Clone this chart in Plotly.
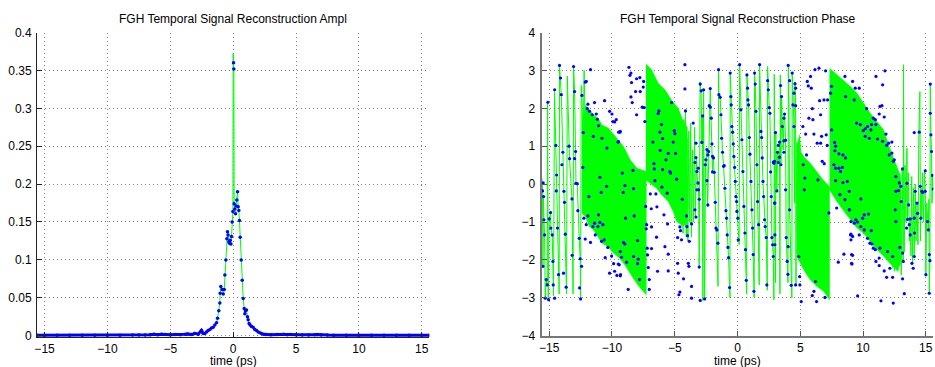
import plotly.graph_objects as go

# ---------------- Amplitude panel data ----------------
t_amp = [-15.6,-15.0,-14.0,-13.0,-12.0,-11.0,-10.0,-9.0,-8.0,-7.5,
         -7.0,-6.6,-6.3,-6.0,-5.7,-5.4,-5.0,-4.6,-4.2,-3.8,
         -3.6,-3.3,-3.05,-2.78,-2.52,-2.38,-2.25,-2.12,-1.99,-1.85,
         -1.72,-1.59,-1.46,-1.32,-1.24,-1.14,-1.06,-1.03,-0.98,-0.87,
         -0.79,-0.71,-0.66,-0.58,-0.50,-0.45,-0.40,-0.34,-0.29,-0.24,
         -0.18,-0.13,-0.08,-0.02,0.03,0.055,0.08,0.13,0.19,0.24,
         0.29,0.35,0.40,0.45,0.50,0.56,0.64,0.72,0.80,0.88,
         0.93,0.98,1.06,1.14,1.19,1.27,1.35,1.46,1.59,1.72,
         1.86,1.99,2.12,2.25,2.39,2.6,3.0,3.5,4.0,4.3,
         4.6,5.0,5.5,6.0,6.5,6.7,7.0,7.5,8.0,9.0,
         10.0,11.0,12.0,13.0,14.0,15.0,15.6]
a_amp = [0.0005,0.0005,0.0005,0.0005,0.0005,0.0005,0.0005,0.0006,0.0008,0.0010,
         0.0010,0.0012,0.0018,0.0012,0.0020,0.0015,0.0012,0.0015,0.0012,0.0018,
         0.0022,0.0015,0.003,0.002,0.007,0.003,0.003,0.005,0.007,0.008,
         0.010,0.011,0.014,0.017,0.023,0.033,0.043,0.056,0.065,0.061,
         0.055,0.061,0.080,0.100,0.128,0.137,0.133,0.124,0.122,0.126,
         0.121,0.131,0.150,0.164,0.360,0.352,0.174,0.167,0.161,0.171,
         0.179,0.190,0.170,0.165,0.152,0.130,0.100,0.073,0.049,0.036,
         0.029,0.033,0.034,0.025,0.021,0.016,0.014,0.012,0.011,0.008,
         0.007,0.005,0.004,0.003,0.002,0.0015,0.0012,0.0015,0.0018,0.0012,
         0.0015,0.0012,0.0010,0.0010,0.0012,0.0015,0.0010,0.0008,0.0006,0.0005,
         0.0005,0.0005,0.0005,0.0005,0.0005,0.0005,0.0005]
peak_t = [0.0]
peak_a = [0.372]

# ---------------- Phase panel data: blue samples ----------------
dA_t = [-14.18,-13.06,-11.71,-12.13,-12.05,-15.11,-14.57,-14.04,-14.10,-12.98,
        -12.40,-11.92,-11.39,-11.97,-11.79,-11.57,-11.25,-10.59,-10.19,-10.00,
        -9.93,-9.79,-9.66,-9.47,-9.34,-11.17,-11.07,-11.49,-10.80,-12.29,
        -10.40,-9.53,-14.47,-13.43,-13.91,-12.90,-13.99,-13.38,-12.98,-12.32,
        -10.96,-10.43,-10.86,-12.87,-12.77,-14.41,-14.44,-13.83,-15.48,-15.53,
        -15.45,-13.19,-11.84,-13.78,-14.89,-15.42,-15.00,-14.34,-14.87,-13.72,
        -14.76,-12.72,-11.07,-12.24,-11.92,-10.96,-10.72,-12.05,-11.39,-11.52,
        -11.33,-11.12,-11.71,-10.83,-10.62,-15.37,-10.33,-12.61,-12.13,-13.17,
        -12.53,-10.54,-10.03,-9.42,-15.50,-14.71,-13.86,-12.42,-9.87,-10.19,
        -9.79,-9.61,-9.32,-15.24,-14.26,-15.16,-14.68,-13.65,-12.58,-15.32,
        -15.05,-14.57,-12.50]
dA_p = [3.13,3.10,3.02,2.69,2.71,2.16,2.49,2.36,2.80,2.44,
        2.34,2.11,2.15,1.99,1.92,1.83,1.85,2.20,1.92,1.85,
        1.65,1.64,1.70,1.37,1.39,1.71,1.54,1.26,1.21,1.36,
        0.95,1.11,1.02,1.00,0.84,0.86,0.51,0.67,0.67,0.44,
        0.18,-0.06,-0.22,0.02,0.01,0.24,-0.18,-0.19,0.03,-0.18,
        -0.33,-0.39,-0.33,-0.48,-0.75,-0.94,-0.92,-1.16,-1.16,-1.32,
        -1.34,-0.70,-0.81,-0.90,-0.84,-1.01,-1.07,-1.07,-1.03,-1.12,
        -1.34,-1.12,-1.54,-1.51,-1.47,-1.34,-1.67,-1.43,-1.45,-1.88,
        -1.97,-1.94,-1.90,-2.13,-2.17,-2.04,-2.35,-2.17,-2.10,-2.35,
        -2.30,-2.41,-2.39,-2.52,-2.39,-2.66,-2.66,-2.72,-2.74,-3.01,
        -3.05,-3.01,-3.03]

dB_t = [-8.65,-8.49,-8.57,-8.04,-7.78,-7.48,-7.51,-8.44,-8.12,-7.75,
        -8.49,-8.39,-7.59,-7.43,-8.04,-7.38,-4.19,-4.19,-5.25,-6.26,
        -6.32,-4.14,-6.05,-5.04,-6.18,-4.99,-5.97,-6.74,-5.12,-3.31,
        -9.37,-9.48,-6.16,-5.52,-4.93,-5.70,-3.53,-6.66,-6.63,-5.97,
        -5.39,-5.33,-3.39,-3.13,-4.85,-8.33,-9.18,-6.58,-8.97,-8.28,
        -6.02,-5.60,-6.50,-9.10,-3.23,-4.40,-6.95,-7.32,-6.87,-6.42,
        -3.39,-8.92,-8.23,-5.86,-4.06,-5.57,-6.85,-4.59,-4.54,-4.03,
        -7.27,-7.24,-3.66,-6.45,-4.77,-4.46,-3.98,-7.96,-9.08,-8.97,
        -3.84,-9.34,-6.85,-7.19,-5.78,-7.17,-5.52,-8.28,-9.24,-8.84,
        -7.91,-9.50,-7.96,-4.77,-3.92,-3.87,-7.11,-6.37,-5.52,-4.72,
        -9.34,-4.30,-3.66,-7.80,-7.03,-8.71,-7.03,-4.59,-4.67,-3.66]
dB_p = [3.08,2.93,2.87,2.78,2.81,2.71,2.56,2.68,2.44,2.44,
        2.30,2.15,2.03,2.02,1.83,1.65,3.15,2.51,2.15,1.93,
        1.86,1.93,1.57,1.41,1.37,1.33,1.20,1.11,1.11,1.08,
        1.37,1.12,0.89,0.81,0.81,0.64,1.61,0.54,0.40,0.38,
        0.33,0.29,0.57,0.42,0.13,0.36,0.29,0.09,-0.04,-0.12,
        -0.08,-0.24,-0.26,-0.22,-0.15,-0.40,-0.26,-0.59,-0.65,-0.60,
        -0.68,-0.90,-0.84,-0.81,-0.84,-1.05,-1.13,-1.13,-1.23,-1.12,
        -1.18,-1.07,-1.05,-1.40,-1.41,-1.47,-1.36,-1.49,-1.54,-1.58,
        -1.51,-1.78,-1.70,-1.69,-1.65,-1.87,-1.85,-1.91,-1.93,-2.06,
        -1.98,-2.11,-2.10,-2.09,-2.09,-2.17,-2.20,-2.30,-2.29,-2.35,
        -2.42,-2.50,-2.70,-2.52,-2.52,-2.78,-2.78,-2.85,-2.92,-3.01]

dC_t = [-2.97,-2.89,-2.70,-2.17,-2.25,-2.17,-2.09,-2.78,-2.84,-2.04,
        -2.44,-2.30,-2.36,-2.52,-2.57,-1.99,-1.91,-3.31,-3.23,-1.99,
        -1.85,-3.15,-3.10,-2.44,-3.05,-2.36,-3.31,-1.77,-1.72,-1.64,
        -1.56,-1.51,-1.48,-1.38,-1.32,-1.27,-1.19,-1.11,-1.06,-1.00,
        -0.92,-0.87,-0.82,-0.76,-0.71,-0.63,-3.05,-2.97,-2.62,-0.58,
        -0.53,-0.50,-0.45,-0.39,-0.34,-0.29,-0.23,-0.18,-0.13,-0.07,
        -0.05,0.03,0.06,0.17,0.27,0.35,0.43,0.51,0.59,0.64,
        0.70,0.75,0.80,0.83,0.88,0.94,0.99,1.07,1.15,1.20,
        1.25,1.31,1.36,1.41,1.47,1.55,1.60,1.68,1.76,1.87,
        1.92,1.97,2.03,2.08,2.16,2.21,2.29,2.34,2.40,2.45,
        2.53,2.58,2.64,2.69,2.74,2.80,2.85,2.90,2.95,2.95]
dC_p = [2.64,2.46,2.49,2.52,2.07,2.03,1.74,1.80,1.10,1.06,
        0.91,0.86,0.77,0.64,0.51,0.73,0.69,0.70,0.33,0.32,
        0.31,0.03,-0.15,0.09,-0.40,-0.55,-0.87,-0.48,-1.16,-1.21,
        -1.56,3.02,2.36,2.29,1.83,1.21,0.84,0.47,0.49,-0.11,
        -0.70,-0.90,-1.34,-1.67,-1.94,-2.73,-2.19,-3.07,-3.03,2.93,
        2.31,2.09,1.52,1.37,1.06,0.73,0.44,0.07,-0.33,-0.46,
        -0.72,-0.90,-1.47,3.15,1.96,1.17,0.33,-0.59,-1.29,-1.73,
        -2.54,2.88,2.53,2.22,2.09,1.23,0.79,0.07,-0.68,-1.16,
        -1.86,-2.83,2.93,2.64,1.92,0.51,-0.46,-1.07,3.15,1.39,
        1.23,0.69,0.07,-0.33,-0.94,-1.12,-1.41,-2.66,2.73,2.49,
        2.02,1.87,0.32,-0.33,-1.41,-1.60,-1.91,0.55,0.60,-0.50]

dD_t = [4.04,4.36,4.58,4.63,4.15,3.43,4.50,3.51,4.63,4.42,
        3.75,3.70,3.57,4.50,3.03,3.35,3.25,3.70,3.83,3.19,
        3.70,3.35,2.85,3.25,3.46,3.14,3.83,2.98,4.15,3.88,
        2.98,4.04,3.96,4.02,4.28,4.63,2.98,6.17,6.49,7.02,
        5.56,5.64,5.82,5.88,6.54,6.89,7.18,5.96,5.69,6.01,
        6.62,5.21,5.43,6.09,6.70,7.07,6.35,6.62,7.15,5.50,
        5.24,6.75,6.91,7.50,7.42,8.56,8.61,7.50,7.74,7.82,
        7.76,8.08,8.40,7.68,7.82,8.08,8.21,8.35,8.61,5.37,
        6.41,7.82,8.40,8.75,5.32,8.16,8.56,8.93,7.90,7.28,
        9.01,9.04,8.48,9.09,8.03,9.09,4.89,4.95,4.97,6.22,
        6.09,6.30,5.08,6.97,5.96]
dD_p = [3.13,2.93,2.65,2.53,2.73,2.60,2.40,2.31,2.07,2.09,
        1.85,1.74,1.52,1.52,1.36,1.11,1.02,1.14,1.16,0.84,
        0.84,0.71,0.58,0.57,0.51,-0.18,-0.15,-0.50,-0.68,-1.41,
        -1.34,-1.65,-2.04,-2.38,-2.67,-2.66,-1.60,3.02,3.06,2.99,
        2.71,2.59,2.84,2.53,2.20,2.22,2.22,1.99,1.74,1.70,
        1.83,1.52,1.32,1.32,1.26,1.30,1.08,1.08,1.02,0.77,
        0.51,0.60,0.54,2.58,2.40,2.84,2.31,1.43,1.10,1.00,
        0.88,0.80,0.77,0.51,0.42,0.42,0.33,0.44,0.69,0.16,
        0.11,0.09,0.04,0.07,-0.15,-0.28,-0.41,-0.68,-0.63,-0.76,
        -1.34,-1.47,-1.85,-1.86,-2.06,-2.09,-1.91,-2.44,-2.66,-2.57,
        -2.83,-3.10,-3.10,-2.99,-2.94]

dE_t = [9.17,9.38,9.70,11.03,11.75,11.56,10.29,9.30,10.82,10.98,
        11.35,11.51,11.69,11.29,9.49,9.78,10.18,10.02,10.36,10.68,
        10.63,11.03,11.83,10.18,10.50,11.16,11.56,12.04,12.30,11.88,
        12.30,12.09,12.41,12.49,12.62,12.89,13.02,12.62,12.83,13.15,
        13.50,14.08,14.48,14.56,14.69,14.16,14.75,14.96,15.36,15.36,
        15.41,15.46,14.96,15.54,15.60,9.83,8.90,8.90,12.57,13.63,
        13.05,13.55,13.76,13.69,14.30,14.35,14.08,14.61,15.15,12.62,
        9.43,9.57,9.97,10.10,10.44,9.04,9.30,9.83,10.10,10.66,
        9.70,9.04,9.17,10.36,13.76,14.11,13.47,15.20,10.55,10.71,
        10.82,10.98,11.35,11.29,11.96,12.36,12.94,13.15,14.08,15.28,
        15.33,9.12,9.17,11.03,11.29,11.69,12.14,13.21,13.90,14.00,
        15.01,11.88,12.36,13.15,15.28,13.29,9.57,11.43,12.41]
dE_p = [2.71,2.53,2.53,2.84,2.99,2.62,1.99,2.22,1.74,1.70,
        2.05,2.07,1.77,1.85,1.61,1.57,1.46,1.41,1.52,1.57,
        1.43,1.57,1.32,1.26,1.21,1.19,1.13,1.08,1.11,1.02,
        0.82,0.77,0.60,0.64,0.20,0.03,-0.06,-0.19,-0.17,0.40,
        0.02,1.36,1.37,-0.06,-0.19,-0.19,-0.22,-0.19,2.64,1.87,
        1.30,0.86,0.35,0.23,-0.13,-0.39,-0.19,-0.68,-0.68,-0.55,
        -0.46,-0.93,-0.92,-1.07,-0.50,-0.77,-0.90,-0.90,-0.99,-0.99,
        -0.94,-1.00,-0.90,-0.81,-0.79,-0.99,-1.03,-1.12,-1.21,-1.23,
        -1.34,-1.32,-1.38,-1.43,-1.34,-1.29,-1.16,-1.21,-1.56,-1.58,
        -1.69,-1.73,-1.69,-1.95,-1.78,-1.91,-1.67,-1.82,-1.91,-1.86,
        -2.02,-2.11,-1.88,-2.04,-2.15,-2.29,-2.22,-2.04,-2.09,-2.22,
        -2.39,-2.46,-2.46,-2.50,-2.88,-2.89,-2.95,-3.08,-3.14]

# ---------------- Phase panel data: green reconstruction ----------------
saw1_t = [-15.58,-15.53,-15.50,-15.47,-15.42,-15.37,-15.32,-15.24,-15.16,-15.13,
          -15.08,-15.00,-14.89,-14.87,-14.76,-14.71,-14.66,-14.58,-14.47,-14.41,
          -14.34,-14.26,-14.21,-14.18,-14.10,-14.04,-13.91,-13.83,-13.78,-13.72,
          -13.65,-13.62,-13.56,-13.43,-13.38,-13.19,-13.17,-13.10,-13.06,-12.98,
          -12.90,-12.87,-12.77,-12.72,-12.61,-12.53,-12.50,-12.45,-12.40,-12.30,
          -12.22,-12.15]
saw1_p = [0.15,-0.18,-2.17,-0.33,-0.94,-1.34,-3.01,-2.52,-2.66,2.16,
          -3.05,-0.92,-0.75,-1.16,-1.34,-2.04,-2.95,2.49,1.02,0.24,
          -1.16,-2.39,-2.90,3.13,2.80,2.36,0.84,-0.19,-0.48,-1.32,
          -2.72,-2.90,2.85,1.00,0.67,-0.39,-1.88,-2.90,3.10,2.44,
          0.86,0.02,0.01,-0.70,-1.43,-1.97,-3.03,2.60,2.34,1.00,
          3.00,1.80]

saw3_t = [-4.45,-4.40,-4.34,-4.28,-4.22,-4.15,-4.08,-4.02,-3.95,-3.88,
          -3.80,-3.73,-3.66,-3.58,-3.50,-3.42,-3.35,-3.27,-3.18,-3.10,
          -3.05,-2.98,-2.90,-2.84,-2.80,-2.76,-2.70,-2.62,-2.55,-2.45,
          -2.38,-2.30,-2.25,-2.17,-2.12,-2.05,-1.99,-1.93,-1.85,-1.77,
          -1.70,-1.62,-1.55,-1.51,-1.48,-1.38,-1.32,-1.27,-1.19,-1.11,
          -1.00,-0.92,-0.82,-0.71,-0.63,-0.60,-0.58,-0.50,-0.39,-0.29,
          -0.18,-0.07,0.03,0.08,0.13,0.17,0.27,0.35,0.43,0.51,
          0.59,0.64,0.70,0.73,0.75,0.80,0.88,0.94,0.99,1.07,
          1.15,1.20,1.25,1.31,1.33,1.36,1.41,1.47,1.55,1.60,
          1.68,1.73,1.76,1.87,1.92,1.97,2.03,2.08,2.16,2.21,
          2.29,2.34,2.37,2.40,2.45,2.53,2.58,2.64,2.69,2.74,
          2.80,2.85,2.90,2.93,2.98,3.00,3.03,3.05,3.14,3.19,
          3.25,3.35,3.38,3.41,3.46,3.51,3.57,3.64,3.70,3.75,
          3.83,3.88,3.96,4.02,4.05,4.10,4.15,4.22,4.28,4.33,
          4.36,4.42,4.50,4.55,4.58,4.63,4.66,4.72]
saw3_p = [-1.10,1.50,-1.30,1.70,-0.80,1.90,-1.40,1.20,-1.50,1.40,
          -1.00,1.60,-1.40,0.90,-1.00,1.50,-0.90,0.70,0.00,-0.20,
          -2.20,2.70,2.40,1.10,1.80,-3.07,2.50,-3.00,0.50,0.90,
          -0.60,0.90,2.10,2.50,1.90,1.00,0.30,0.70,0.30,-0.50,
          -1.20,-1.80,-2.70,3.02,2.36,2.29,1.83,1.21,0.84,0.47,
          -0.11,-0.70,-1.34,-1.94,-2.73,-3.00,2.93,2.09,1.37,0.73,
          0.07,-0.46,-0.90,-1.50,-1.60,3.15,1.96,1.17,0.33,-0.59,
          -1.29,-1.73,-2.54,-2.90,2.88,2.53,2.09,1.23,0.79,0.07,
          -0.68,-1.16,-1.86,-2.83,-3.00,2.93,2.64,1.92,0.51,-0.46,
          -1.07,-2.66,3.15,1.39,1.23,0.69,0.07,-0.33,-0.94,-1.12,
          -1.41,-2.66,-2.80,3.10,2.49,2.02,1.87,0.32,-0.33,-1.41,
          -1.60,-1.91,-3.05,2.90,-0.50,-1.60,-2.60,1.40,-0.20,0.84,
          0.57,1.10,-2.90,2.88,0.51,2.31,1.52,0.90,1.74,1.85,
          1.16,-1.41,-2.04,-2.60,3.13,2.00,-0.68,-1.80,-2.67,-3.00,
          2.93,2.09,1.52,-0.50,2.65,2.07,-2.66,1.10]

saw4_t = [12.20,12.25,12.30,12.36,12.42,12.50,12.57,12.62,12.70,12.78,
          12.85,12.92,12.98,13.05,13.12,13.20,13.23,13.28,13.35,13.42,
          13.50,13.55,13.62,13.69,13.76,13.82,13.88,13.95,14.02,14.08,
          14.16,14.22,14.30,14.38,14.45,14.53,14.58,14.62,14.69,14.75,
          14.82,14.90,14.96,15.01,15.08,15.15,15.20,15.25,15.28,15.33,
          15.36,15.41,15.46,15.50,15.54,15.60]
saw4_p = [0.90,-2.10,0.80,-2.20,0.60,-2.30,0.50,-2.00,0.40,-2.30,
          0.30,-1.70,0.10,-2.40,0.40,-2.00,3.15,-1.80,0.50,-1.00,
          0.95,-0.93,0.30,-1.50,-0.92,-1.90,0.20,-2.10,-0.10,-1.91,
          0.00,-1.50,-0.50,-1.60,1.37,2.44,-1.50,-0.10,-0.90,0.30,
          -1.00,0.35,-0.19,-2.39,-0.50,-0.99,-1.21,-0.40,-2.88,-2.02,
          2.64,1.30,0.86,-0.50,0.23,-0.13]

# dense-oscillation envelopes (solid green bands)
bandA_top_t = [-12.39,-12.25,-12.13,-11.90,-11.47,-11.10,-10.80,-10.30,-10.00,-9.61,-9.08,-8.55,-8.01,-7.27]
bandA_top_p = [1.43,1.80,2.09,2.00,1.83,1.74,1.56,1.48,1.35,1.21,0.99,0.64,0.42,0.33]
bandA_bot_t = [-12.39,-12.13,-11.80,-11.47,-11.20,-10.80,-10.30,-9.90,-9.40,-8.90,-8.40,-7.85,-7.27]
bandA_bot_p = [-0.77,-0.85,-1.12,-1.21,-1.34,-1.56,-1.65,-1.82,-1.95,-2.17,-2.44,-2.70,-2.92]

bandB_top_t = [-7.30,-6.85,-6.31,-5.78,-5.25,-4.72,-4.32,-4.00]
bandB_top_p = [3.17,3.02,2.66,2.49,2.22,2.00,1.65,1.50]
bandB_bot_t = [-7.30,-6.98,-6.45,-6.05,-5.52,-5.12,-4.85,-4.46,-4.00]
bandB_bot_p = [0.11,0.03,-0.11,-0.28,-0.46,-0.72,-0.99,-1.07,-1.10]

bandC_top_t = [4.74,4.95,5.05,5.30,5.80,6.30,6.80,7.33]
bandC_top_p = [1.05,1.30,0.85,0.72,0.55,0.32,0.12,-0.07]
bandC_bot_t = [4.74,5.27,5.80,6.33,6.86,7.33]
bandC_bot_p = [-1.91,-2.26,-2.53,-2.70,-2.83,-3.05]

bandD_top_t = [7.33,7.90,8.45,8.98,9.52,10.05,10.58,11.11,11.64,12.17,12.70,13.00]
bandD_top_p = [3.06,2.90,2.75,2.58,2.40,2.14,1.87,1.65,1.43,0.91,0.47,0.20]
bandD_bot_t = [7.33,7.90,8.45,9.00,9.50,10.05,10.58,11.11,11.64,12.17,12.70,13.00]
bandD_bot_p = [-0.15,-0.45,-0.70,-0.95,-1.15,-1.30,-1.52,-1.73,-1.90,-2.10,-2.28,-2.10]

# ---------------- ticks / text ----------------
x_ticks = [-15, -10, -5, 0, 5, 10, 15]
amp_ticks = [0, 0.05, 0.1, 0.15, 0.2, 0.25, 0.3, 0.35, 0.4]
phase_ticks = [-4, -3, -2, -1, 0, 1, 2, 3, 4]
title_amp = "FGH Temporal Signal Reconstruction Ampl"
title_phase = "FGH Temporal Signal Reconstruction Phase"
x_label = "time (ps)"

BLUE = "#0000ff"
GREEN = "#00ff00"
FONT = "Liberation Sans, Arial, Helvetica, sans-serif"
FS = 12

fig = go.Figure()

# ----- amplitude panel -----
line_pairs = sorted(list(zip(t_amp, a_amp)) + list(zip(peak_t, peak_a)))
fig.add_trace(go.Scatter(x=[p[0] for p in line_pairs], y=[p[1] for p in line_pairs],
                         mode="lines", line=dict(color=GREEN, width=1),
                         xaxis="x", yaxis="y", hoverinfo="skip"))
base_x, base_y = [], []
for t, a in zip(t_amp, a_amp):
    if t <= -2.3:
        base_x.append(t); base_y.append(a)
base_x.append(None); base_y.append(None)
for t, a in zip(t_amp, a_amp):
    if t >= 2.3:
        base_x.append(t); base_y.append(a)
fig.add_trace(go.Scatter(x=base_x, y=base_y, mode="lines", line=dict(color=BLUE, width=3),
                         connectgaps=False, xaxis="x", yaxis="y", hoverinfo="skip"))
fig.add_trace(go.Scatter(x=t_amp, y=a_amp, mode="markers",
                         marker=dict(color=BLUE, size=3.5, line=dict(width=0)),
                         xaxis="x", yaxis="y", hoverinfo="skip"))

# ----- phase panel -----
for tt, tp, bt, bp in [(bandA_top_t, bandA_top_p, bandA_bot_t, bandA_bot_p),
                       (bandB_top_t, bandB_top_p, bandB_bot_t, bandB_bot_p),
                       (bandC_top_t, bandC_top_p, bandC_bot_t, bandC_bot_p),
                       (bandD_top_t, bandD_top_p, bandD_bot_t, bandD_bot_p)]:
    fig.add_trace(go.Scatter(x=tt + bt[::-1], y=tp + bp[::-1], mode="lines",
                             fill="toself", fillcolor=GREEN,
                             line=dict(color=GREEN, width=0.5),
                             xaxis="x2", yaxis="y2", hoverinfo="skip"))
for st, sp in [(saw1_t, saw1_p), (saw3_t, saw3_p), (saw4_t, saw4_p)]:
    fig.add_trace(go.Scatter(x=st, y=sp, mode="lines", line=dict(color=GREEN, width=1),
                             xaxis="x2", yaxis="y2", hoverinfo="skip"))
dots_t = dA_t + dB_t + dC_t + dD_t + dE_t
dots_p = dA_p + dB_p + dC_p + dD_p + dE_p
fig.add_trace(go.Scatter(x=dots_t, y=dots_p, mode="markers",
                         marker=dict(color=BLUE, size=3.2, line=dict(width=0)),
                         xaxis="x2", yaxis="y2", hoverinfo="skip"))

W, H = 935, 367
axis_common = dict(ticks="inside", ticklen=5, tickwidth=1, showgrid=True,
                   gridcolor="#7f7f7f", gridwidth=1, griddash="1px,3px",
                   zeroline=False, showline=True, mirror=False, automargin=False,
                   tickfont=dict(family=FONT, size=FS, color="#000"))

fig.update_layout(
    width=W, height=H, autosize=False, margin=dict(l=0, r=0, t=0, b=0, pad=0),
    paper_bgcolor="white", plot_bgcolor="white", showlegend=False,
    font=dict(family=FONT, size=FS, color="#000"),
    xaxis=dict(domain=[37 / W, 429.3 / W], range=[-15.6, 15.6], anchor="y",
               tickvals=x_ticks, linecolor="#222", linewidth=1, tickcolor="#222",
               **axis_common),
    yaxis=dict(domain=[1 - 337.2 / H, 1 - 32.5 / H], range=[-0.002, 0.4], anchor="x",
               tickvals=amp_ticks, linecolor="#222", linewidth=1, tickcolor="#222",
               ticklabelstandoff=2, **axis_common),
    xaxis2=dict(domain=[541.7 / W, 933.3 / W], range=[-15.6, 15.6], anchor="y2",
                tickvals=x_ticks, linecolor="#777", linewidth=2, tickcolor="#555",
                **axis_common),
    yaxis2=dict(domain=[1 - 335.7 / H, 1 - 32.5 / H], range=[-4, 4], anchor="x2",
                tickvals=phase_ticks, linecolor="#777", linewidth=2, tickcolor="#555",
                ticklabelstandoff=2, **axis_common),
    annotations=[
        dict(text=title_amp, x=233.2 / W, y=1 - 18.5 / H, xref="paper", yref="paper",
             showarrow=False, xanchor="center", yanchor="middle",
             font=dict(family=FONT, size=FS, color="#000")),
        dict(text=title_phase, x=737.5 / W, y=1 - 18.5 / H, xref="paper", yref="paper",
             showarrow=False, xanchor="center", yanchor="middle",
             font=dict(family=FONT, size=FS, color="#000")),
        dict(text=x_label, x=233.2 / W, y=0, xref="paper", yref="paper",
             showarrow=False, xanchor="center", yanchor="bottom", yshift=-2, borderpad=0,
             font=dict(family=FONT, size=FS, color="#000")),
        dict(text=x_label, x=737.5 / W, y=0, xref="paper", yref="paper",
             showarrow=False, xanchor="center", yanchor="bottom", yshift=-2, borderpad=0,
             font=dict(family=FONT, size=FS, color="#000")),
    ],
)

fig.write_html("out.html", config={"displayModeBar": False})
